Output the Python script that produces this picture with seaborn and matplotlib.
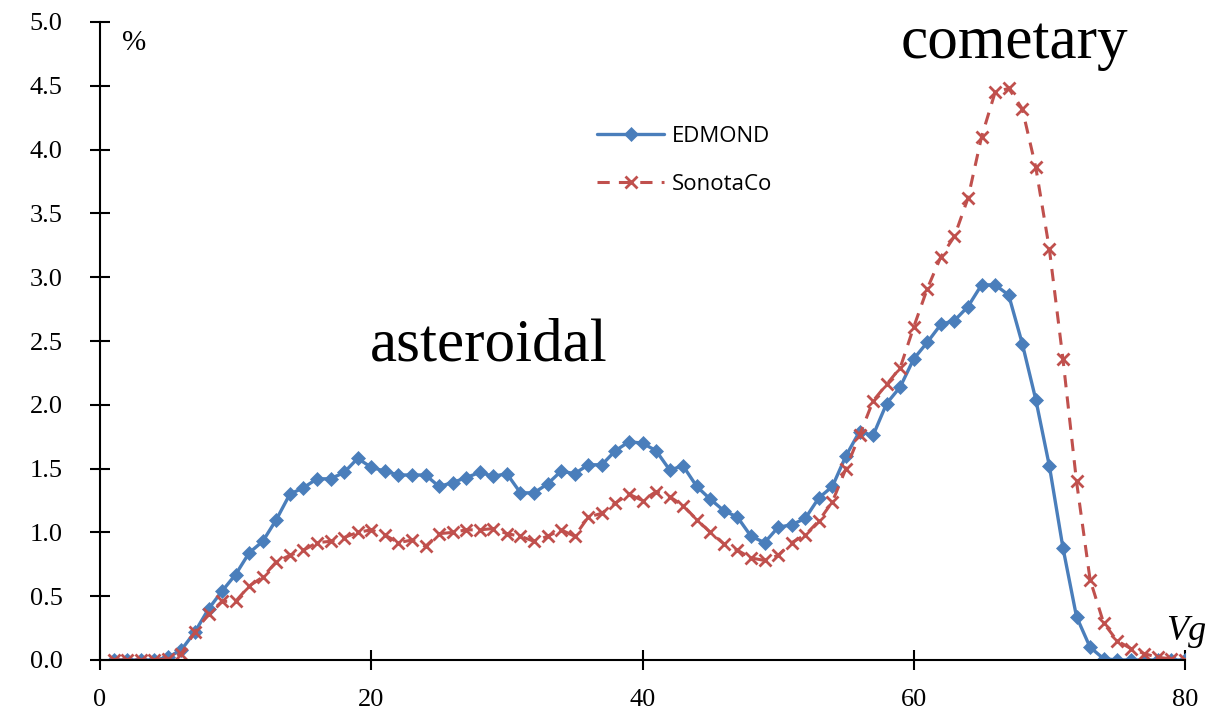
import numpy as np
import pandas as pd
import seaborn as sns
import matplotlib.pyplot as plt

# geocentric velocity bins (km/s)
vg = list(range(1, 81))

edmond = [0, 0, 0, 0, 0.02, 0.08, 0.22, 0.40, 0.54, 0.67,
          0.84, 0.93, 1.10, 1.30, 1.35, 1.42, 1.42, 1.47, 1.58, 1.51,
          1.48, 1.45, 1.45, 1.45, 1.36, 1.39, 1.43, 1.47, 1.44, 1.46,
          1.31, 1.31, 1.38, 1.48, 1.46, 1.53, 1.53, 1.64, 1.71, 1.70,
          1.64, 1.49, 1.52, 1.36, 1.26, 1.17, 1.12, 0.97, 0.92, 1.04,
          1.06, 1.11, 1.27, 1.36, 1.60, 1.79, 1.76, 2.01, 2.14, 2.36,
          2.49, 2.63, 2.66, 2.77, 2.94, 2.94, 2.86, 2.48, 2.04, 1.52,
          0.88, 0.34, 0.10, 0.01, 0, 0, 0, 0, 0, 0]

sonotaco = [0, 0, 0, 0, 0.01, 0.05, 0.22, 0.36, 0.46, 0.46,
            0.58, 0.65, 0.77, 0.82, 0.86, 0.92, 0.93, 0.96, 1.00, 1.02,
            0.98, 0.92, 0.94, 0.89, 0.99, 1.00, 1.02, 1.02, 1.03, 0.99,
            0.97, 0.93, 0.97, 1.02, 0.97, 1.12, 1.15, 1.23, 1.30, 1.25,
            1.32, 1.28, 1.21, 1.10, 1.00, 0.91, 0.86, 0.80, 0.78, 0.82,
            0.92, 0.98, 1.09, 1.24, 1.50, 1.76, 2.03, 2.16, 2.29, 2.61,
            2.91, 3.16, 3.32, 3.62, 4.10, 4.45, 4.48, 4.32, 3.86, 3.22,
            2.36, 1.40, 0.63, 0.29, 0.15, 0.09, 0.05, 0.02, 0.01, 0.0]

x_ticks = [0, 20, 40, 60, 80]
y_ticks = np.arange(0, 5.01, 0.5)

df = pd.DataFrame({'Vg': vg, 'EDMOND': edmond, 'SonotaCo': sonotaco})

blue = '#4a7ebb'
red = '#c0504d'

sns.set_style('ticks')
plt.rcParams['font.family'] = ['Liberation Serif', 'DejaVu Serif']
plt.rcParams['text.color'] = 'black'

fig = plt.figure(figsize=(12.17, 7.24), dpi=100)
ax = fig.add_axes([100 / 1217, 64 / 724, 1085 / 1217, 638 / 724])

sns.lineplot(data=df, x='Vg', y='EDMOND', ax=ax, color=blue, lw=2.4,
             marker='D', markersize=7, markeredgewidth=0.5,
             markeredgecolor=blue, markerfacecolor=blue, label='EDMOND')
sns.lineplot(data=df, x='Vg', y='SonotaCo', ax=ax, color=red, lw=2.2,
             linestyle=(0, (4, 3)), marker='x', markersize=8, markeredgewidth=2,
             markeredgecolor=red, label='SonotaCo')

ax.set_xlim(0, 80)
ax.set_ylim(0, 5.0)
ax.set_xticks(x_ticks)
ax.set_yticks(y_ticks)
ax.set_yticklabels([f'{v:.1f}' for v in y_ticks])
ax.set_xlabel('')
ax.set_ylabel('')
ax.tick_params(direction='inout', length=14, width=1.5, labelsize=19,
               colors='black', labelcolor='black')
ax.tick_params(axis='y', pad=20)
ax.tick_params(axis='x', pad=14)
for s in ['left', 'bottom']:
    ax.spines[s].set_linewidth(1.5)
    ax.spines[s].set_color('black')
sns.despine(ax=ax)

ax.text(1.6, 4.94, '%', fontsize=21, va='top', ha='left')
ax.text(78.6, 0.16, 'Vg', fontsize=26, style='italic', ha='left', va='baseline')
ax.text(19.9, 2.35, 'asteroidal', fontsize=44, ha='left', va='baseline')
ax.text(59.0, 4.72, 'cometary', fontsize=44, ha='left', va='baseline')

leg = ax.legend(loc='upper left', bbox_to_anchor=(0.44, 0.868), frameon=False,
                handlelength=3.0, labelspacing=1.2, handletextpad=0.35,
                prop={'family': 'Open Sans', 'size': 16})

fig.savefig('out.png', dpi=100)
